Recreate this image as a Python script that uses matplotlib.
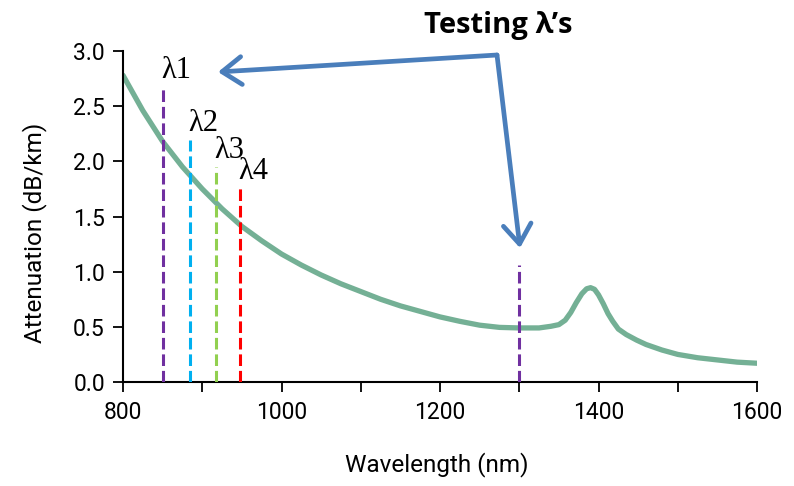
import numpy as np
import matplotlib
matplotlib.use("Agg")
import matplotlib.pyplot as plt
from matplotlib.patches import FancyArrowPatch

# attenuation curve (nm, dB/km)
wavelength = [800, 825, 850, 875, 900, 925, 950, 975, 1000, 1025, 1050, 1075,
              1100, 1125, 1150, 1175, 1200, 1225, 1250, 1275, 1300, 1325, 1340,
              1350, 1358, 1365, 1372, 1379, 1385, 1390, 1395, 1400, 1406, 1412,
              1418, 1425, 1435, 1448, 1460, 1480, 1500, 1525, 1550, 1575, 1600]
attenuation = [2.78, 2.46, 2.18, 1.95, 1.75, 1.57, 1.41, 1.28, 1.16, 1.06, 0.97, 0.89,
               0.82, 0.75, 0.69, 0.64, 0.59, 0.55, 0.515, 0.495, 0.49, 0.49, 0.505,
               0.52, 0.56, 0.63, 0.72, 0.80, 0.845, 0.855, 0.84, 0.79, 0.71, 0.62,
               0.55, 0.48, 0.43, 0.38, 0.34, 0.29, 0.25, 0.22, 0.20, 0.18, 0.17]

# testing wavelengths
test_labels = ["λ1", "λ2", "λ3", "λ4", ""]
test_nm = [850, 884, 917, 948, 1300]
test_top = [2.67, 2.19, 1.95, 1.76, 1.06]
test_colors = ["#7030a0", "#00b0f0", "#92d050", "#ff0000", "#7030a0"]

xticks = [800, 900, 1000, 1100, 1200, 1300, 1400, 1500, 1600]
xticklabels = ["800", "", "1000", "", "1200", "", "1400", "", "1600"]
yticks = [0.0, 0.5, 1.0, 1.5, 2.0, 2.5, 3.0]

plt.rcParams['font.family'] = ['Roboto', 'DejaVu Sans']

fig = plt.figure(figsize=(7.94, 4.86), dpi=100)
ax = fig.add_axes([123/794, 104/486, 634/794, 331/486])

ax.plot(wavelength, attenuation, color="#74b095", lw=3.8,
        solid_capstyle="round", solid_joinstyle="round", zorder=2)

for lab, x, top, c in zip(test_labels, test_nm, test_top, test_colors):
    ax.plot([x, x], [0, top], color=c, lw=2.2, dashes=(3.8, 1.6), zorder=3)
    if lab:
        ax.text(x - 2, top + 0.02, lab, family=["Liberation Serif", "DejaVu Serif"],
                fontsize=22, ha="left", va="bottom")

ax.set_xlim(800, 1600)
ax.set_ylim(0, 3.0)
ax.set_xticks(xticks)
ax.set_xticklabels(xticklabels)
ax.set_yticks(yticks)
ax.set_yticklabels([f"{v:.1f}" for v in yticks])
ax.tick_params(axis="both", direction="out", length=7, width=1.3,
               labelsize=16.5, colors="black")
ax.tick_params(axis="x", pad=7)
ax.tick_params(axis="y", pad=6)
for s in ["top", "right"]:
    ax.spines[s].set_visible(False)
for s in ["left", "bottom"]:
    ax.spines[s].set_linewidth(1.5)

fig.text(35/794, 1 - 233/486, "Attenuation (dB/km)", rotation=90,
         ha="center", va="center", fontsize=17.5)
fig.text(437/794, 1 - 465/486, "Wavelength (nm)", ha="center", va="center",
         fontsize=17.5)

# "Testing λ's" callout
fig.text(498/794, 1 - 26/486, "Testing λ’s", ha="center", va="center",
         fontsize=21, fontweight="bold", family=["Open Sans", "DejaVu Sans"])
corner = (497/794, 1 - 55/486)
for tip in [(218/794, 1 - 72/486), (520/794, 1 - 248/486)]:
    arr = FancyArrowPatch(corner, tip, transform=fig.transFigure,
                          arrowstyle="->,head_length=0.7,head_width=0.5",
                          mutation_scale=20, color="#4a7ebb", lw=3.4,
                          shrinkA=0, shrinkB=0, capstyle="round",
                          joinstyle="round")
    fig.patches.append(arr)

fig.savefig("out.png", dpi=100)
